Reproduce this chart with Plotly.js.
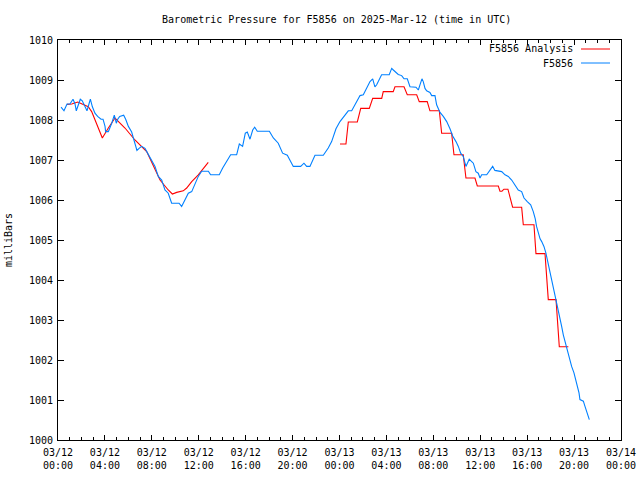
<!DOCTYPE html>
<html><head><meta charset="utf-8">
<script src="https://cdn.plot.ly/plotly-3.0.1.min.js"></script>
<style>body{margin:0;background:#fff}</style>
</head><body><div id="chart" style="width:640px;height:480px"></div>
<script>
// Hours since 2025-03-12 00:00 UTC
const startUTC = Date.UTC(2025, 2, 12, 0, 0, 0);

const stationHours = [
 0.26,0.51,0.77,1.02,1.28,1.45,1.56,1.73,1.90,2.07,
 2.24,2.47,2.64,2.76,2.93,3.15,3.38,3.67,3.84,4.01,
 4.06,4.29,4.58,4.80,4.97,5.09,5.26,5.60,5.77,6.00,
 6.28,6.45,6.73,6.91,7.13,7.42,7.70,7.99,8.27,8.55,
 8.84,9.12,9.40,9.69,10.32,10.54,10.83,11.11,11.40,11.68,
 11.96,12.25,12.82,13.01,13.75,14.04,14.38,14.72,15.23,15.46,
 15.74,15.97,16.14,16.37,16.60,16.77,16.99,18.02,18.36,18.78,
 19.15,19.55,20.06,20.69,20.97,21.20,21.48,21.91,22.62,23.04,
 23.33,23.47,23.70,24.04,24.47,24.75,25.04,25.32,25.75,26.03,
 26.32,26.60,26.83,27.02,27.17,27.45,27.59,28.24,28.45,28.59,
 28.73,29.01,29.30,29.50,29.78,30.01,30.52,30.72,30.86,31.03,
 31.14,31.29,31.43,31.71,31.86,32.14,32.28,32.57,32.85,33.14,
 33.42,33.65,33.93,34.13,34.33,34.55,34.78,34.89,35.06,35.27,
 35.41,35.63,35.83,35.98,36.12,36.55,36.83,37.06,37.25,37.83,
 38.11,38.39,38.68,38.96,39.24,39.53,39.73,40.01,40.30,40.52,
 40.69,40.80,40.95,41.10,41.24,41.43,41.60,41.72,41.88,42.09,
 42.23,42.37,42.52,42.66,42.80,42.94,43.08,43.22,43.37,43.51,
 43.65,43.79,43.99,44.16,44.31,44.42,44.50,44.79,44.93,45.07,
 45.21,45.30
];
const stationValues = [
 1008.32,1008.23,1008.40,1008.40,1008.52,1008.40,1008.23,1008.40,1008.52,1008.48,
 1008.37,1008.23,1008.40,1008.52,1008.33,1008.17,1008.09,1008.02,1008.02,1007.84,
 1007.71,1007.71,1007.92,1008.12,1007.92,1008.02,1008.09,1008.12,1008.02,1007.84,
 1007.70,1007.50,1007.24,1007.29,1007.34,1007.29,1007.13,1007.00,1006.84,1006.59,
 1006.50,1006.25,1006.17,1005.92,1005.92,1005.84,1006.00,1006.17,1006.21,1006.42,
 1006.59,1006.72,1006.72,1006.63,1006.63,1006.80,1006.96,1007.13,1007.13,1007.40,
 1007.34,1007.67,1007.70,1007.52,1007.75,1007.82,1007.72,1007.72,1007.55,1007.42,
 1007.17,1007.12,1006.84,1006.84,1006.92,1006.84,1006.84,1007.12,1007.12,1007.30,
 1007.46,1007.59,1007.78,1007.96,1008.13,1008.23,1008.23,1008.38,1008.61,1008.63,
 1008.79,1008.96,1009.03,1008.83,1008.88,1009.04,1009.13,1009.13,1009.29,1009.25,
 1009.21,1009.14,1009.11,1009.03,1009.03,1008.83,1008.82,1008.75,1008.88,1009.03,
 1008.96,1008.79,1008.73,1008.69,1008.61,1008.61,1008.38,1008.19,1008.09,1007.96,
 1007.78,1007.60,1007.46,1007.34,1007.17,1007.09,1006.84,1006.92,1007.02,1006.96,
 1006.92,1006.71,1006.67,1006.55,1006.63,1006.63,1006.75,1006.84,1006.74,1006.71,
 1006.63,1006.59,1006.50,1006.38,1006.25,1006.21,1006.05,1005.96,1005.88,1005.71,
 1005.53,1005.34,1005.15,1005.03,1004.96,1004.84,1004.67,1004.51,1004.30,1004.05,
 1003.84,1003.63,1003.43,1003.26,1003.09,1002.84,1002.63,1002.47,1002.30,1002.13,
 1002.01,1001.84,1001.68,1001.47,1001.34,1001.18,1001.01,1000.97,1000.84,1000.72,
 1000.59,1000.51
];

const analysisHours = [
 0.77,1.17,1.68,2.02,2.58,2.87,3.30,3.78,4.29,4.86,
 5.71,6.56,7.56,8.13,8.70,9.40,9.75,10.12,10.68,10.97,
 11.40,11.96,12.39,12.81,
 18.00,
 24.04,24.55,24.75,25.52,25.81,26.54,26.83,27.60,27.73,28.58,
 28.73,29.50,29.78,30.58,30.80,31.48,31.71,32.51,32.71,33.56,
 33.76,34.55,34.78,35.55,35.75,37.54,37.68,37.85,38.02,38.36,
 38.76,39.53,39.67,40.58,40.75,41.52,41.80,42.46,42.74,43.51
];
const analysisValues = [
 1008.39,1008.40,1008.45,1008.40,1008.33,1008.21,1007.92,1007.55,1007.80,1008.05,
 1007.80,1007.50,1007.21,1006.84,1006.50,1006.25,1006.15,1006.19,1006.23,1006.30,
 1006.46,1006.63,1006.80,1006.94,
 null,
 1007.40,1007.40,1007.95,1007.95,1008.29,1008.29,1008.54,1008.54,1008.71,1008.71,
 1008.83,1008.83,1008.63,1008.63,1008.46,1008.46,1008.23,1008.23,1007.67,1007.67,
 1007.13,1007.13,1006.55,1006.55,1006.35,1006.35,1006.22,1006.22,1006.27,1006.27,
 1005.82,1005.82,1005.38,1005.38,1004.66,1004.66,1003.51,1003.51,1002.33,1002.33
];

const seriesNames = ["F5856 Analysis", "F5856"];
const seriesColors = ["#ff0000", "#0080ff"];

function toDate(h) {
  const d = new Date(startUTC + Math.round(h * 3600) * 1000);
  return d.toISOString().slice(0, 19).replace('T', ' ');
}

const FONT = "DejaVu Sans Mono";
const L = 58, R = 621, T = 40, B = 440;
const W = 640, H = 480;
const pw = R - L, ph = B - T;
const px = x => (x - L) / pw;
const py = y => 1 - (y - T) / ph;

const traces = [
  {x: analysisHours.map(toDate), y: analysisValues, type: 'scatter', mode: 'lines',
   name: seriesNames[0], line: {color: seriesColors[0], width: 1.1}, connectgaps: false},
  {x: stationHours.map(toDate), y: stationValues, type: 'scatter', mode: 'lines',
   name: seriesNames[1], line: {color: seriesColors[1], width: 1.1}}
];

const annotations = [], shapes = [];
[49, 63].forEach((yy, i) => {
  annotations.push({xref: 'paper', yref: 'paper', x: px(575), y: py(yy), xanchor: 'right', yanchor: 'middle',
    text: seriesNames[i], showarrow: false, font: {family: FONT, size: 10, color: '#000'}});
  shapes.push({type: 'line', xref: 'paper', yref: 'paper', x0: px(581), x1: px(610), y0: py(yy), y1: py(yy),
    line: {color: seriesColors[i], width: 1}});
});

const layout = {
  width: W, height: H,
  margin: {l: L, r: W - R, t: T, b: H - B},
  paper_bgcolor: '#fff', plot_bgcolor: '#fff',
  showlegend: false,
  font: {family: FONT, size: 10, color: '#000'},
  title: {text: 'Barometric Pressure for F5856 on 2025-Mar-12 (time in UTC)',
          font: {family: FONT, size: 10, color: '#000'},
          xref: 'paper', x: 0.495, xanchor: 'center', yref: 'container', y: 1 - 19 / H, yanchor: 'middle'},
  xaxis: {type: 'date', range: ['2025-03-12 00:00:00', '2025-03-14 00:00:00'],
          tick0: '2025-03-12 00:00:00', dtick: 4 * 3600000, tickformat: '%m/%d<br>%H:%M',
          ticks: 'inside', ticklen: 5, tickcolor: '#000', tickwidth: 1,
          showline: true, linecolor: '#000', linewidth: 1, mirror: 'allticks',
          showgrid: false, zeroline: false, ticklabelstandoff: 3,
          minor: {dtick: 3600000, ticks: 'inside', ticklen: 3, tickcolor: '#000', tickwidth: 1, showgrid: false},
          tickfont: {family: FONT, size: 10, color: '#000'}},
  yaxis: {range: [1000, 1010], dtick: 1, tick0: 1000, tickformat: 'd',
          ticks: 'inside', ticklen: 6, tickcolor: '#000', tickwidth: 1,
          showline: true, linecolor: '#000', linewidth: 1, mirror: 'allticks',
          showgrid: false, zeroline: false, ticklabelstandoff: 2,
          tickfont: {family: FONT, size: 10, color: '#000'},
          title: {text: 'milliBars', font: {family: FONT, size: 10, color: '#000'}, standoff: 14}},
  annotations: annotations,
  shapes: shapes
};

Plotly.newPlot('chart', traces, layout, {staticPlot: true, displayModeBar: false});
</script>
</body></html>
